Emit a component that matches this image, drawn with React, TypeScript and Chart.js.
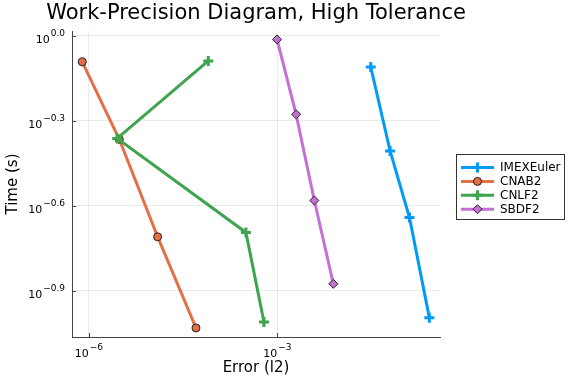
import { useEffect, useRef } from "react";
import { Chart, registerables } from "chart.js";

Chart.register(...registerables);

const seriesNames = ["IMEXEuler", "CNAB2", "CNLF2", "SBDF2"];
const seriesColors = ["#009AFA", "#E36F47", "#3EA44E", "#C371D2"];

const imexErr = [0.0307, 0.0624, 0.127, 0.263];
const imexTime = [0.776, 0.392, 0.228, 0.101];

const cnab2Err = [7.82e-7, 3.04e-6, 1.24e-5, 5.06e-5];
const cnab2Time = [0.809, 0.431, 0.195, 0.0929];

const cnlf2Err = [7.94e-5, 2.82e-6, 3.16e-4, 6.12e-4];
const cnlf2Time = [0.815, 0.434, 0.202, 0.0975];

const sbdf2Err = [9.89e-4, 1.99e-3, 3.88e-3, 7.8e-3];
const sbdf2Time = [0.971, 0.528, 0.262, 0.133];

const xTickExps = [-6, -3];
const xTickLabels = ["−6", "−3"];
const yTickExps = [0, -0.3, -0.6, -0.9];
const yTickLabels = ["0.0", "−0.3", "−0.6", "−0.9"];

const titleText = "Work-Precision Diagram, High Tolerance";
const xTitle = "Error (l2)";
const yTitle = "Time (s)";

const FONT = "'DejaVu Sans', sans-serif";

function pts(xs: number[], ys: number[]) {
  return xs.map((x, i) => ({ x, y: ys[i] }));
}

function drawPow(ctx: CanvasRenderingContext2D, x: number, y: number, exp: string, align: "right" | "center") {
  ctx.font = `11px ${FONT}`;
  const wb = ctx.measureText("10").width;
  ctx.font = `9px ${FONT}`;
  const we = ctx.measureText(exp).width;
  const total = wb + we + 1;
  const start = align === "right" ? x - total : x - total / 2;
  ctx.textAlign = "left";
  ctx.textBaseline = "alphabetic";
  ctx.fillStyle = "#000";
  ctx.font = `11px ${FONT}`;
  ctx.fillText("10", start, y);
  ctx.font = `9px ${FONT}`;
  ctx.fillText(exp, start + wb + 1, y - 7);
}

function drawMarker(ctx: CanvasRenderingContext2D, style: string, x: number, y: number, color: string) {
  ctx.save();
  if (style === "cross") {
    ctx.strokeStyle = color;
    ctx.lineWidth = 3;
    ctx.beginPath();
    ctx.moveTo(x - 5, y);
    ctx.lineTo(x + 5, y);
    ctx.moveTo(x, y - 5);
    ctx.lineTo(x, y + 5);
    ctx.stroke();
  } else if (style === "circle") {
    ctx.fillStyle = color;
    ctx.strokeStyle = "#222";
    ctx.lineWidth = 1;
    ctx.beginPath();
    ctx.arc(x, y, 4, 0, Math.PI * 2);
    ctx.fill();
    ctx.stroke();
  } else {
    ctx.fillStyle = color;
    ctx.strokeStyle = "#222";
    ctx.lineWidth = 1;
    ctx.beginPath();
    ctx.moveTo(x, y - 4.5);
    ctx.lineTo(x + 4.5, y);
    ctx.lineTo(x, y + 4.5);
    ctx.lineTo(x - 4.5, y);
    ctx.closePath();
    ctx.fill();
    ctx.stroke();
  }
  ctx.restore();
}

const markerStyles = ["cross", "circle", "cross", "diamond"];

const decorPlugin = {
  id: "decor",
  beforeDraw(chart: any) {
    const ctx = chart.ctx as CanvasRenderingContext2D;
    ctx.save();
    ctx.fillStyle = "#fff";
    ctx.fillRect(0, 0, chart.width, chart.height);
    ctx.restore();
  },
  afterDraw(chart: any) {
    const ctx = chart.ctx as CanvasRenderingContext2D;
    const area = chart.chartArea;
    const xs = chart.scales.x;
    const ys = chart.scales.y;
    ctx.save();
    // tick marks
    ctx.strokeStyle = "#444";
    ctx.lineWidth = 1;
    ctx.beginPath();
    xTickExps.forEach((e) => {
      const px = Math.round(xs.getPixelForValue(Math.pow(10, e))) + 0.5;
      ctx.moveTo(px, area.bottom);
      ctx.lineTo(px, area.bottom - 4);
    });
    yTickExps.forEach((e) => {
      const py = Math.round(ys.getPixelForValue(Math.pow(10, e))) + 0.5;
      ctx.moveTo(area.left, py);
      ctx.lineTo(area.left + 4, py);
    });
    ctx.stroke();
    // tick labels
    xTickExps.forEach((e, i) => {
      const px = xs.getPixelForValue(Math.pow(10, e));
      drawPow(ctx, px, area.bottom + 20, xTickLabels[i], "center");
    });
    yTickExps.forEach((e, i) => {
      const py = ys.getPixelForValue(Math.pow(10, e));
      drawPow(ctx, area.left - 7, py + 7, yTickLabels[i], "right");
    });
    // titles
    ctx.fillStyle = "#000";
    ctx.textAlign = "center";
    ctx.textBaseline = "alphabetic";
    ctx.font = `21px ${FONT}`;
    ctx.fillText(titleText, (area.left + area.right) / 2, 19);
    ctx.font = `15px ${FONT}`;
    ctx.fillText(xTitle, (area.left + area.right) / 2, 372);
    ctx.save();
    ctx.translate(17, (area.top + area.bottom) / 2);
    ctx.rotate(-Math.PI / 2);
    ctx.fillText(yTitle, 0, 0);
    ctx.restore();
    // legend
    const lx = 456.5, ly = 154.5, lw = 108, lh = 65;
    ctx.fillStyle = "#fff";
    ctx.fillRect(lx, ly, lw, lh);
    ctx.strokeStyle = "#333";
    ctx.lineWidth = 1;
    ctx.strokeRect(lx, ly, lw, lh);
    seriesNames.forEach((name, i) => {
      const y = 167.5 + i * 13.9;
      ctx.strokeStyle = seriesColors[i];
      ctx.lineWidth = 3;
      ctx.beginPath();
      ctx.moveTo(461, y);
      ctx.lineTo(494, y);
      ctx.stroke();
      drawMarker(ctx, markerStyles[i], 477.5, y, seriesColors[i]);
      ctx.fillStyle = "#000";
      ctx.font = `12px ${FONT}`;
      ctx.textAlign = "left";
      ctx.textBaseline = "middle";
      ctx.fillText(name, 500, y + 0.5);
    });
    ctx.restore();
  },
};

export default function App() {
  const ref = useRef<HTMLCanvasElement>(null);
  useEffect(() => {
    if (!ref.current) return;
    const errs = [imexErr, cnab2Err, cnlf2Err, sbdf2Err];
    const times = [imexTime, cnab2Time, cnlf2Time, sbdf2Time];
    const pointStyles = ["cross", "circle", "cross", "rectRot"];
    const radii = [5, 4, 5, 4.5];
    const chart = new Chart(ref.current, {
      type: "line",
      data: {
        datasets: seriesNames.map((name, i) => ({
          label: name,
          data: pts(errs[i], times[i]),
          borderColor: seriesColors[i],
          backgroundColor: seriesColors[i],
          borderWidth: 3,
          pointStyle: pointStyles[i] as any,
          pointRadius: radii[i],
          pointBorderWidth: pointStyles[i] === "cross" ? 3 : 1,
          pointBorderColor: pointStyles[i] === "cross" ? seriesColors[i] : "#222",
          pointBackgroundColor: seriesColors[i],
          tension: 0,
          fill: false,
          order: 4 - i,
        })),
      },
      options: {
        animation: false,
        responsive: false,
        layout: { padding: { left: 72, right: 136, top: 31, bottom: 47 } },
        plugins: { legend: { display: false }, title: { display: false }, tooltip: { enabled: false } },
        scales: {
          x: {
            type: "logarithmic",
            min: Math.pow(10, -6.27),
            max: Math.pow(10, -0.41),
            afterBuildTicks: (s: any) => {
              s.ticks = xTickExps.map((e) => ({ value: Math.pow(10, e) }));
            },
            afterFit: (s: any) => {
              s.height = 0;
            },
            ticks: { display: false },
            grid: { color: "rgba(0,0,0,0.08)", lineWidth: 1, drawTicks: false },
            border: { display: true, color: "#444", width: 1 },
          },
          y: {
            type: "logarithmic",
            min: Math.pow(10, -1.064),
            max: Math.pow(10, 0.017),
            afterBuildTicks: (s: any) => {
              s.ticks = yTickExps.map((e) => ({ value: Math.pow(10, e) }));
            },
            afterFit: (s: any) => {
              s.width = 0;
            },
            ticks: { display: false },
            grid: { color: "rgba(0,0,0,0.08)", lineWidth: 1, drawTicks: false },
            border: { display: true, color: "#444", width: 1 },
          },
        },
      } as any,
      plugins: [decorPlugin],
    });
    return () => chart.destroy();
  }, []);
  return (
    <div style={{ position: "absolute", left: 0, top: 0, width: 576, height: 384 }}>
      <canvas ref={ref} width={576} height={384} style={{ display: "block" }} />
    </div>
  );
}
